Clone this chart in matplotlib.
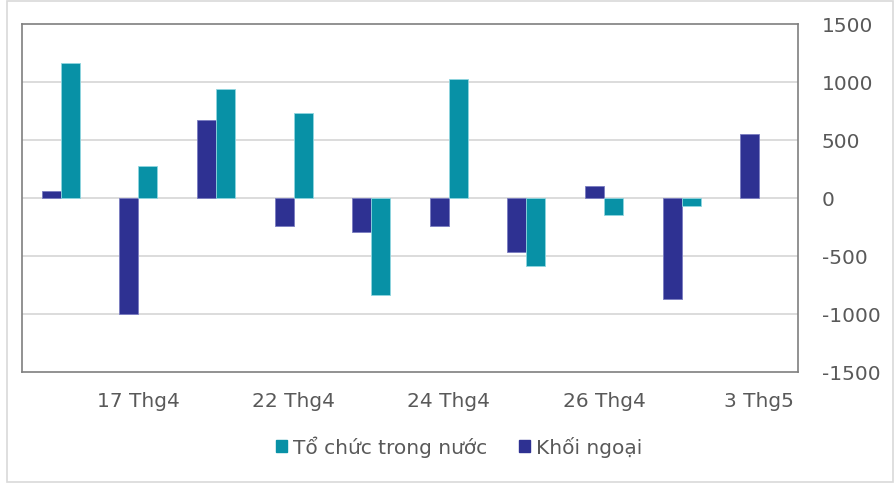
import matplotlib
matplotlib.use("Agg")
import matplotlib.pyplot as plt
import numpy as np
from matplotlib.patches import Rectangle, Patch

categories = ["16 Thg4", "17 Thg4", "19 Thg4", "22 Thg4", "23 Thg4",
              "24 Thg4", "25 Thg4", "26 Thg4", "2 Thg5", "3 Thg5"]
to_chuc = [1160, 276, 940, 733, -836, 1026, -586, -144, -72, 0]
khoi_ngoai = [60, -1000, 675, -241, -296, -244, -463, 103, -868, 549]
series_names = ["Tổ chức trong nước", "Khối ngoại"]
yticks = [-1500, -1000, -500, 0, 500, 1000, 1500]

teal = "#0891A6"
navy = "#2E3192"
txt = "#595959"

plt.rcParams['font.family'] = ['DejaVu Sans']
plt.rcParams['axes.unicode_minus'] = False
fig = plt.figure(figsize=(8.95, 4.85), dpi=100)
fig.patches.append(Rectangle((7/895, 1-483/485), (893-7)/895, (483-2)/485,
                             transform=fig.transFigure, fill=False,
                             edgecolor="#D9D9D9", linewidth=1.2))
ax = fig.add_axes([22/895, 1-373/485, 776/895, 348/485])

x = np.arange(len(categories))
w = 0.245
ax.bar(x - w/2, khoi_ngoai, w, color=navy, edgecolor="#7A7CC0",
       linewidth=[0.6 if v != 0 else 0 for v in khoi_ngoai], zorder=3)
ax.bar(x + w/2, to_chuc, w, color=teal, edgecolor="#8FD6E0",
       linewidth=[0.6 if v != 0 else 0 for v in to_chuc], zorder=3)

ax.set_xlim(-0.5, len(categories) - 0.5)
ax.set_ylim(-1500, 1500)
ax.set_yticks(yticks)
ax.yaxis.tick_right()
ax.tick_params(axis='y', length=0, pad=17, labelsize=14.5, labelcolor=txt)
ax.set_xticks(x[1::2])
ax.set_xticklabels(categories[1::2])
ax.tick_params(axis='x', length=0, pad=14, labelsize=14.5, labelcolor=txt)
for t in ax.get_yticklabels():
    t.set_ha('left')

for v in yticks[1:-1]:
    ax.axhline(v, color="#D9D9D9", linewidth=1.3, zorder=1)
for s in ax.spines.values():
    s.set_color("#7F7F7F")
    s.set_linewidth(1.2)

handles = [Patch(facecolor=teal, edgecolor=teal), Patch(facecolor=navy, edgecolor=navy)]
fig.legend(handles, series_names, loc='center', bbox_to_anchor=(459/895, 1-447/485),
           ncol=2, frameon=False, fontsize=14.5, labelcolor=txt,
           handlelength=0.55, handleheight=0.55, handletextpad=0.3, columnspacing=1.6)

fig.savefig("out.png", dpi=100)
